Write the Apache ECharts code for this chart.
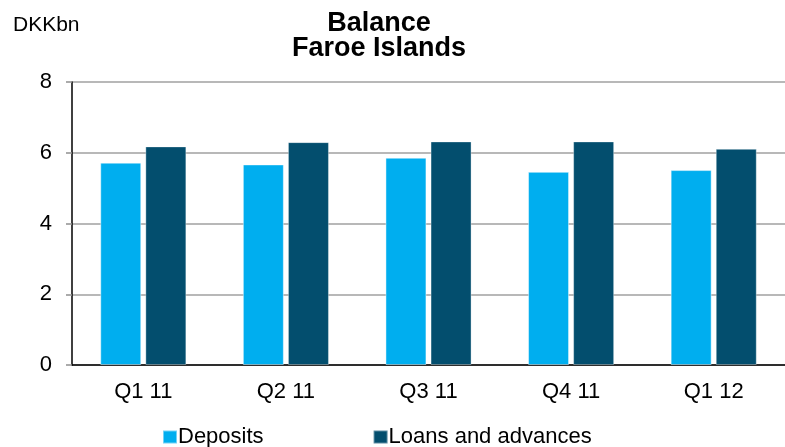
<!DOCTYPE html>
<html>
<head>
<meta charset="utf-8">
<script src="https://cdn.jsdelivr.net/npm/echarts@6/dist/echarts.min.js"></script>
<style>
  html, body { margin: 0; padding: 0; background: #ffffff; }
  #chart { width: 785px; height: 447px; }
</style>
</head>
<body>
<div id="chart"></div>
<script>
// Quarterly balance, Faroe Islands (DKK bn)
var quarters = ['Q1 11', 'Q2 11', 'Q3 11', 'Q4 11', 'Q1 12'];
var deposits = [5.72, 5.67, 5.86, 5.46, 5.51];
var loansAndAdvances = [6.18, 6.30, 6.32, 6.32, 6.11];
var yTicks = { min: 0, max: 8, interval: 2 };

var FONT = 'Liberation Sans, Arial, sans-serif';
var chart = echarts.init(document.getElementById('chart'), null, { renderer: 'canvas' });

chart.setOption({
  animation: false,
  backgroundColor: '#ffffff',
  textStyle: { fontFamily: FONT },
  title: [
    {
      text: 'Balance\nFaroe Islands',
      left: 379,
      top: 11,
      padding: 0,
      textAlign: 'center',
      textStyle: { fontFamily: FONT, fontSize: 27, fontWeight: 'bold', lineHeight: 25, color: '#000000' }
    },
    {
      text: 'DKKbn',
      left: 13,
      top: 15,
      padding: 0,
      textStyle: { fontFamily: FONT, fontSize: 21, fontWeight: 'normal', color: '#000000' }
    }
  ],
  legend: {
    top: 426,
    left: 162,
    padding: 0,
    itemWidth: 14,
    itemHeight: 13,
    itemGap: 109,
    icon: 'rect',
    textStyle: { fontFamily: FONT, fontSize: 22, color: '#000000', padding: [0, 0, 0, -4] },
    data: ['Deposits', 'Loans and advances']
  },
  grid: { left: 72, right: 0, top: 82, bottom: 82, containLabel: false },
  xAxis: {
    type: 'category',
    data: quarters,
    axisLine: { lineStyle: { color: '#000000', width: 1.5 } },
    axisTick: { show: false },
    axisLabel: { fontFamily: FONT, fontSize: 22, color: '#000000', margin: 16 }
  },
  yAxis: {
    type: 'value',
    min: yTicks.min,
    max: yTicks.max,
    interval: yTicks.interval,
    axisLine: { show: true, lineStyle: { color: '#000000', width: 1.5 } },
    axisTick: { show: true, length: 6, lineStyle: { color: '#909090', width: 1.5 } },
    axisLabel: { fontFamily: FONT, fontSize: 22, color: '#000000', margin: 20 },
    splitLine: { lineStyle: { color: '#a0a0a0', width: 1.5 } }
  },
  series: [
    {
      name: 'Deposits',
      type: 'bar',
      data: deposits,
      barWidth: 41,
      barGap: '10%',
      itemStyle: { color: '#00aeef', borderColor: 'rgba(255,255,255,0.45)', borderWidth: 1 }
    },
    {
      name: 'Loans and advances',
      type: 'bar',
      data: loansAndAdvances,
      barWidth: 41,
      itemStyle: { color: '#034e6e', borderColor: 'rgba(255,255,255,0.35)', borderWidth: 1 }
    }
  ]
});
</script>
</body>
</html>
